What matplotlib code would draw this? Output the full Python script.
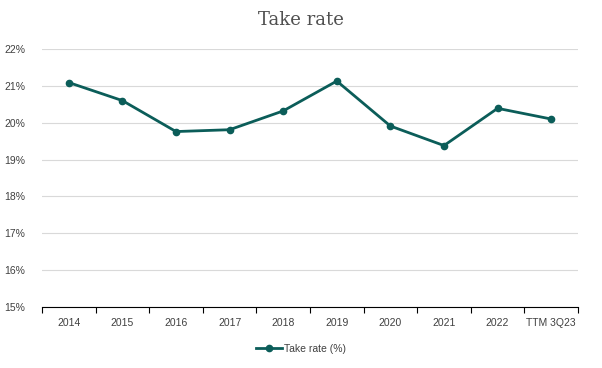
import matplotlib
matplotlib.use("Agg")
import matplotlib.pyplot as plt
import numpy as np

categories = ["2014", "2015", "2016", "2017", "2018", "2019", "2020", "2021", "2022", "TTM 3Q23"]
take_rate = [21.09, 20.60, 19.76, 19.81, 20.32, 21.13, 19.91, 19.38, 20.39, 20.10]
yticks = [15, 16, 17, 18, 19, 20, 21, 22]

teal = "#0b5d59"
plt.rcParams["font.family"] = ["Liberation Sans", "DejaVu Sans"]

fig = plt.figure(figsize=(6.02, 3.68), dpi=100)
ax = fig.add_axes([42 / 602, 1 - 307 / 368, 536 / 602, 258 / 368])

x = np.arange(len(categories))
ax.plot(x, take_rate, color=teal, lw=2.0, marker="o", ms=4.5, label="Take rate (%)")

ax.set_xlim(-0.5, len(categories) - 0.5)
ax.set_ylim(15, 22)
ax.set_yticks(yticks)
ax.set_yticklabels([f"{v}%" for v in yticks])
ax.yaxis.grid(True, color="#d9d9d9", lw=0.8)
ax.set_axisbelow(True)
ax.tick_params(axis="y", length=0, labelsize=7.5, colors="#404040", pad=12)

ax.set_xticks(x)
ax.set_xticklabels(categories)
ax.tick_params(axis="x", which="major", length=0, labelsize=7.5, colors="#404040", pad=8)
ax.set_xticks(np.arange(-0.5, len(categories), 1), minor=True)
ax.tick_params(axis="x", which="minor", length=4, width=0.8, color="black", direction="out")

for s in ["top", "right", "left"]:
    ax.spines[s].set_visible(False)
ax.spines["bottom"].set_color("black")
ax.spines["bottom"].set_linewidth(0.8)

fig.text(0.5, 1 - 20 / 368, "Take rate", ha="center", va="center",
         fontsize=13, color="#505050", family="DejaVu Serif")

fig.legend(loc="center", bbox_to_anchor=(0.5, 1 - 349 / 368), frameon=False,
           fontsize=7.5, labelcolor="#404040", handlelength=2.5, handletextpad=0.2)

fig.savefig("out.png", dpi=100)
